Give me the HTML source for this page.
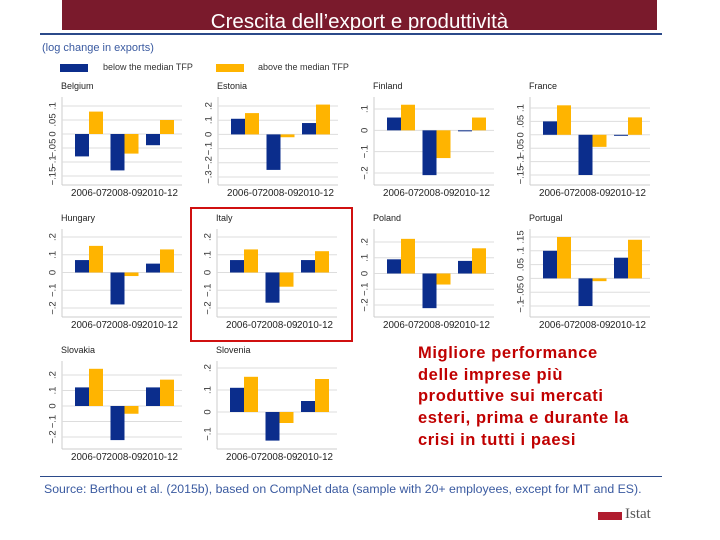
<!DOCTYPE html>
<html><head><meta charset="utf-8"><style>
body{margin:0;width:720px;height:540px;background:#fff;overflow:hidden;font-family:"Liberation Sans",sans-serif;position:relative}
.abs{position:absolute}
</style></head><body>
<div class="abs" style="left:62px;top:0;width:595px;height:30px;background:#7a1a2c"></div>
<div class="abs" style="left:62px;top:8px;width:595px;text-align:center;color:#fff;font-size:20.5px;text-decoration:underline;line-height:28px">Crescita dell’export e produttività</div>
<div class="abs" style="left:40px;top:33px;width:622px;height:2px;background:#2b4a8a"></div>
<div class="abs" style="left:42px;top:42px;font-size:11px;color:#3a5aa0">(log change in exports)</div>
<div class="abs" style="left:60px;top:64px;width:28px;height:8px;background:#0b2d8c"></div>
<div class="abs" style="left:103px;top:62px;font-size:9px;color:#333">below the median TFP</div>
<div class="abs" style="left:216px;top:64px;width:28px;height:8px;background:#ffb400"></div>
<div class="abs" style="left:258px;top:62px;font-size:9px;color:#333">above the median TFP</div>
<svg id="ch" class="abs" style="left:0;top:0" width="720" height="540"></svg>
<div class="abs" style="left:190px;top:207px;width:159px;height:131px;border:2px solid #d01010"></div>
<div class="abs" style="left:418px;top:343px;width:260px;font-size:16.5px;letter-spacing:0.6px;font-weight:bold;color:#c00000;line-height:21.7px;white-space:nowrap">Migliore performance<br>delle imprese più<br>produttive sui mercati<br>esteri, prima e durante la<br>crisi in tutti i paesi</div>
<div class="abs" style="left:40px;top:476px;width:622px;height:1px;background:#2b4a8a"></div>
<div class="abs" style="left:44px;top:482px;font-size:12.3px;color:#3a5aa0;white-space:nowrap">Source: Berthou et al. (2015b), based on CompNet data (sample with 20+ employees, except for MT and ES).</div>
<div class="abs" style="left:598px;top:512px;width:24px;height:8px;background:#b01c2e"></div>
<div class="abs" style="left:625px;top:506px;font-family:'Liberation Serif',serif;font-size:15px;color:#555">Istat</div>
<script>
const categories=["2006-07","2008-09","2010-12"];
const countries=["Belgium","Estonia","Finland","France","Hungary","Italy","Poland","Portugal","Slovakia","Slovenia"];
const belowMedian=[[-0.08,-0.13,-0.04],[0.11,-0.25,0.08],[0.06,-0.21,-0.003],[0.05,-0.15,-0.003],[0.07,-0.18,0.05],[0.07,-0.17,0.07],[0.09,-0.22,0.08],[0.10,-0.10,0.075],[0.12,-0.22,0.12],[0.11,-0.13,0.05]];
const aboveMedian=[[0.08,-0.07,0.05],[0.15,-0.02,0.21],[0.12,-0.13,0.06],[0.11,-0.045,0.065],[0.15,-0.02,0.13],[0.13,-0.08,0.12],[0.22,-0.07,0.16],[0.15,-0.01,0.14],[0.24,-0.05,0.17],[0.16,-0.05,0.15]];
const tickLabels=[["−.15","−.1","−.05","0",".05",".1"],["−.3","−.2","−.1","0",".1",".2"],["−.2","−.1","0",".1"],["−.15","−.1","−.05","0",".05",".1"],["−.2","−.1","0",".1",".2"],["−.2","−.1","0",".1",".2"],["−.2","−.1","0",".1",".2"],["−.1","−.05","0",".05",".1",".15"],["−.2","−.1","0",".1",".2"],["−.1","0",".1",".2"]];
const tickValues=[[-0.15,-0.1,-0.05,0,0.05,0.1],[-0.3,-0.2,-0.1,0,0.1,0.2],[-0.2,-0.1,0,0.1],[-0.15,-0.1,-0.05,0,0.05,0.1],[-0.2,-0.1,0,0.1,0.2],[-0.2,-0.1,0,0.1,0.2],[-0.2,-0.1,0,0.1,0.2],[-0.1,-0.05,0,0.05,0.1,0.15],[-0.2,-0.1,0,0.1,0.2],[-0.1,0,0.1,0.2]];
// layout: [left x, row index, y px of max tick, y px of min tick]
const layout=[[62,0,106,176],[218,0,106,177],[374,0,109,173],[530,0,108,175],[62,1,237,308],[217,1,237,308],[374,1,242,305],[530,1,237,306],[62,2,375,437],[217,2,368,434]];
const NS="http://www.w3.org/2000/svg",svg=document.getElementById('ch');
function mk(t,a,p){const e=document.createElementNS(NS,t);for(const k in a)e.setAttribute(k,a[k]);(p||svg).appendChild(e);return e;}
countries.forEach((c,i)=>{
  const [x0,row,yMax,yMin]=layout[i];
  const tv=tickValues[i],vmin=tv[0],vmax=tv[tv.length-1];
  const y=v=>yMin+(v-vmin)/(vmax-vmin)*(yMax-yMin);
  const top=97+row*132,bot=185+row*132,w=120;
  const g=mk('g',{});
  
  
  const t=mk('text',{x:x0-1,y:top-8,'font-size':9,fill:'#222'},g);t.textContent=c;
  
  mk('line',{x1:x0,y1:top,x2:x0,y2:bot,stroke:'#ccc'},g);
  mk('line',{x1:x0,y1:bot,x2:x0+w,y2:bot,stroke:'#ccc'},g);
  tv.forEach((v,k)=>{
    mk('line',{x1:x0,y1:y(v),x2:x0+w,y2:y(v),stroke:'#ddd'},g);
    const yy=y(v);
    const tl=mk('text',{x:x0-9,y:yy,'font-size':9.5,fill:'#333','text-anchor':'middle',transform:`rotate(-90 ${x0-9} ${yy})`,'dominant-baseline':'middle'},g);
    tl.textContent=tickLabels[i][k];
    
  });
  categories.forEach((cat,j)=>{
    const cx=x0+27+j*35.5;
    const b=belowMedian[i][j],a=aboveMedian[i][j],z=y(0);
    const r1=mk('rect',{x:cx-14,y:Math.min(z,y(b)),width:14,height:Math.max(1,Math.abs(y(b)-z)),fill:'#0b2d8c'},g);
    
    const r2=mk('rect',{x:cx,y:Math.min(z,y(a)),width:14,height:Math.max(1,Math.abs(y(a)-z)),fill:'#ffb400'},g);
    
    const xl=mk('text',{x:cx,y:bot+11,'font-size':9.8,fill:'#222','text-anchor':'middle'},g);
    xl.textContent=cat;
    
  });
});
</script>
</body></html>
